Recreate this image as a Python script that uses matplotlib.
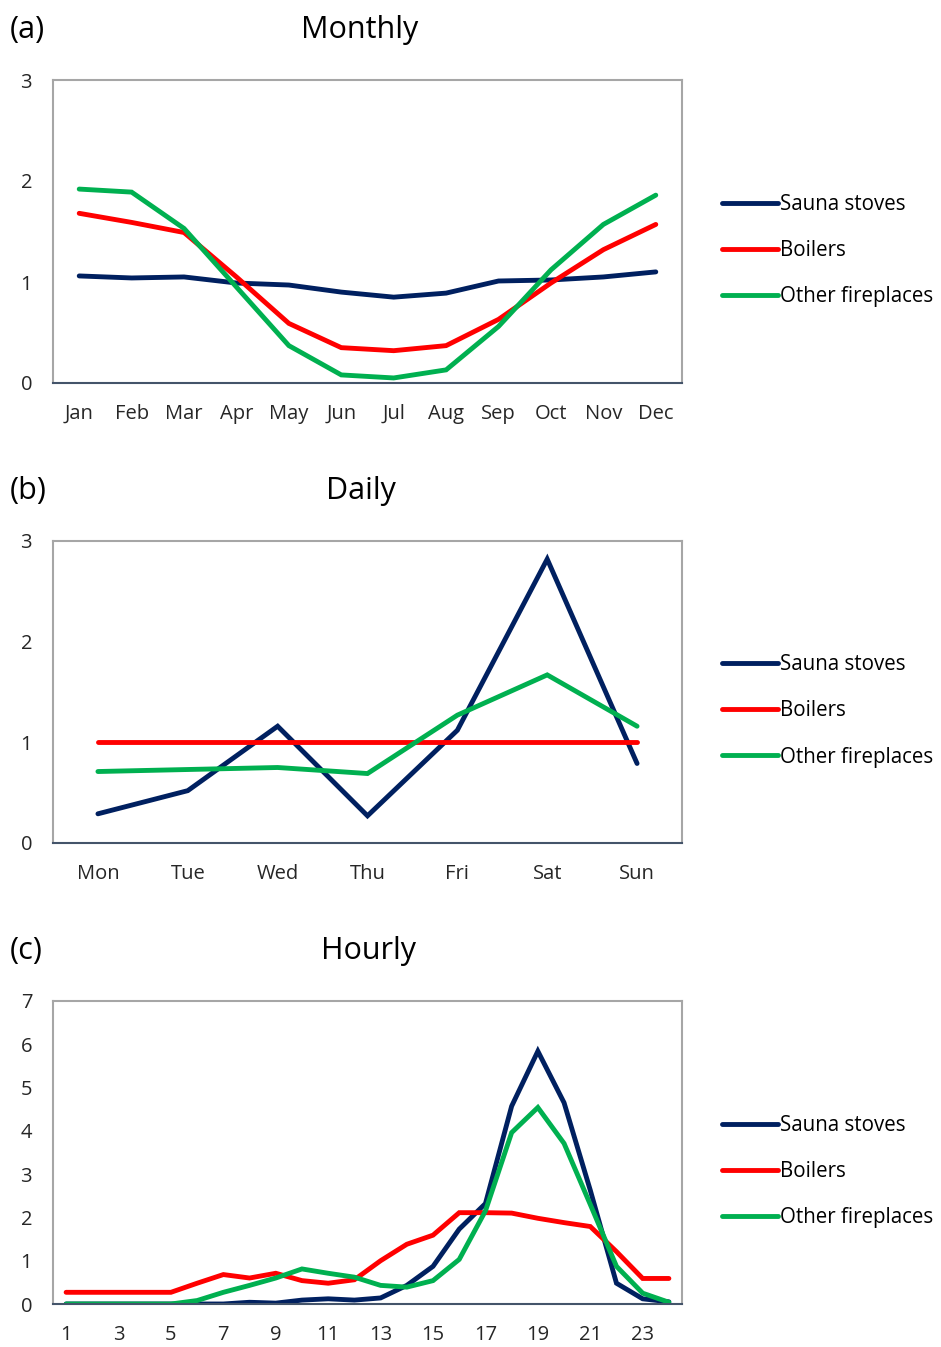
import numpy as np
import matplotlib
matplotlib.use("Agg")
import matplotlib.pyplot as plt

plt.rcParams['font.family'] = ['Open Sans', 'DejaVu Sans']

series = ['Sauna stoves', 'Boilers', 'Other fireplaces']
colors = ['#002060', '#FF0000', '#00B050']

# monthly
months = ['Jan', 'Feb', 'Mar', 'Apr', 'May', 'Jun', 'Jul', 'Aug', 'Sep', 'Oct', 'Nov', 'Dec']
sauna_m = [1.06, 1.04, 1.05, 0.99, 0.97, 0.90, 0.85, 0.89, 1.01, 1.02, 1.05, 1.10]
boiler_m = [1.68, 1.59, 1.49, 1.05, 0.59, 0.35, 0.32, 0.37, 0.63, 0.99, 1.32, 1.57]
other_m = [1.92, 1.89, 1.53, 0.95, 0.37, 0.08, 0.05, 0.13, 0.56, 1.12, 1.57, 1.86]

# daily
days = ['Mon', 'Tue', 'Wed', 'Thu', 'Fri', 'Sat', 'Sun']
sauna_d = [0.29, 0.52, 1.16, 0.27, 1.12, 2.82, 0.79]
boiler_d = [1.0, 1.0, 1.0, 1.0, 1.0, 1.0, 1.0]
other_d = [0.71, 0.73, 0.75, 0.69, 1.27, 1.67, 1.16]

# hourly
hours = list(range(1, 25))
sauna_h = [0, 0, 0, 0, 0, 0, 0, 0.04, 0.02, 0.09, 0.12, 0.09,
           0.14, 0.43, 0.87, 1.73, 2.32, 4.57, 5.84, 4.65, 2.63, 0.48, 0.12, 0.05]
boiler_h = [0.27, 0.27, 0.27, 0.27, 0.27, 0.48, 0.68, 0.60, 0.71, 0.54, 0.48, 0.56,
            1.0, 1.38, 1.59, 2.11, 2.11, 2.10, 1.98, 1.88, 1.79, 1.21, 0.59, 0.59]
other_h = [0, 0, 0, 0, 0, 0.08, 0.27, 0.43, 0.60, 0.81, 0.71, 0.62,
           0.43, 0.39, 0.54, 1.03, 2.15, 3.96, 4.54, 3.71, 2.3, 0.87, 0.25, 0.04]

W, H = 941, 1347
fig = plt.figure(figsize=(W / 100, H / 100), dpi=100)


def panel(top, bottom, cats, data, ymax, tick_every, label, title, title_x):
    ax = fig.add_axes([53 / W, 1 - bottom / H, 629 / W, (bottom - top) / H])
    x = np.arange(len(cats))
    for vals, name, c in zip(data, series, colors):
        ax.plot(x, vals, color=c, lw=3.5, label=name, solid_capstyle='round', solid_joinstyle='miter')
    ax.set_xlim(-0.5, len(cats) - 0.5)
    ax.set_ylim(0, ymax)
    ax.set_yticks(range(ymax + 1))
    ax.set_xticks(x[::tick_every])
    ax.set_xticklabels([str(c) for c in cats[::tick_every]])
    ax.tick_params(length=0, labelsize=14.5, colors='#262626')
    ax.tick_params(axis='y', pad=15)
    ax.tick_params(axis='x', pad=15)
    for s in ['top', 'right', 'left']:
        ax.spines[s].set_color('#A6A6A6')
        ax.spines[s].set_linewidth(1.5)
    ax.spines['bottom'].set_color('#44546A')
    ax.spines['bottom'].set_linewidth(1.5)
    ax.legend(loc='center left', bbox_to_anchor=(714 / W, 1 - ((top + bottom) / 2 + 19) / H),
              bbox_transform=fig.transFigure, frameon=False, fontsize=14.8,
              handlelength=2.7, handletextpad=0.1, labelspacing=1.22, borderaxespad=0)
    fig.text(10 / W, 1 - (top - 50) / H, label, fontsize=22, va='center', ha='left')
    fig.text(title_x / W, 1 - (top - 50) / H, title, fontsize=22, va='center', ha='center')
    return ax


panel(80, 383, months, [sauna_m, boiler_m, other_m], 3, 1, '(a)', 'Monthly', 360)
panel(541, 843, days, [sauna_d, boiler_d, other_d], 3, 1, '(b)', 'Daily', 361)
panel(1001, 1304, hours, [sauna_h, boiler_h, other_h], 7, 2, '(c)', 'Hourly', 369)

fig.savefig('out.png', dpi=100)
